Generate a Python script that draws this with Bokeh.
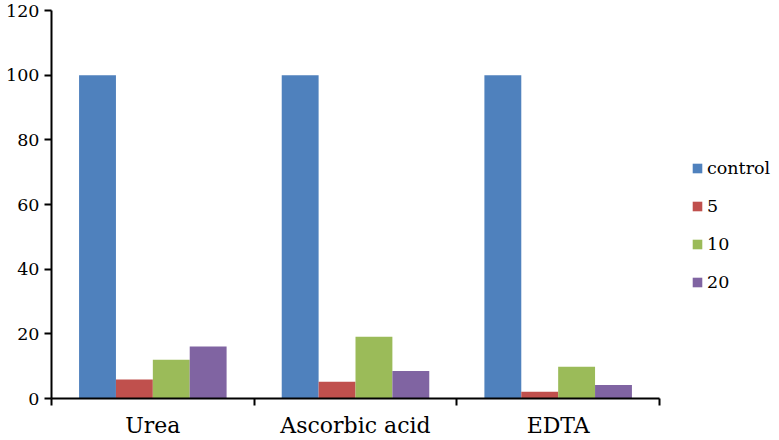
from bokeh.plotting import figure
from bokeh.models import (ColumnDataSource, Range1d, FixedTicker, LinearAxis,
                          Legend, LegendItem)
from bokeh.transform import dodge
from bokeh.embed import file_html
from bokeh.resources import INLINE

categories = ["Urea", "Ascorbic acid", "EDTA"]
series = ["control", "5", "10", "20"]
control = [100, 100, 100]
s5 = [5.9, 5.2, 2.1]
s10 = [12.0, 19.1, 9.8]
s20 = [16.1, 8.5, 4.2]
colors = ["#4F81BD", "#C0504D", "#9BBB59", "#8064A2"]
y_ticks = [0, 20, 40, 60, 80, 100, 120]

FONT = "DejaVu Serif"
n = len(categories)
xpos = [i + 0.5 for i in range(n)]
src = ColumnDataSource(dict(x=xpos, cat=categories, control=control,
                            s5=s5, s10=s10, s20=s20))

W = 771
LEFT = 51
x_end = (W - LEFT) / (608 / 3)

p = figure(width=W, height=440, output_backend="svg", toolbar_location=None,
           x_range=Range1d(0, x_end), y_range=Range1d(0, 120),
           x_axis_location=None, y_axis_location=None,
           min_border_left=LEFT, min_border_right=0, min_border_top=10,
           min_border_bottom=30)
p.outline_line_color = None
p.xgrid.visible = False
p.ygrid.visible = False

bw = 0.182
offsets = [-1.5 * bw, -0.5 * bw, 0.5 * bw, 1.5 * bw]
fields = ["control", "s5", "s10", "s20"]
renderers = []
for f, off, c in zip(fields, offsets, colors):
    r = p.vbar(x=dodge("x", off), top=f, width=bw, bottom=0, source=src,
               fill_color=c, line_color=None)
    renderers.append(r)

# y axis
yax = LinearAxis(ticker=FixedTicker(ticks=y_ticks))
yax.axis_line_width = 2
yax.axis_line_color = "black"
yax.major_tick_line_width = 2
yax.major_tick_in = 0
yax.major_tick_out = 7
yax.minor_tick_line_color = None
yax.major_label_text_font = FONT
yax.major_label_text_font_size = "17.5px"
yax.major_label_text_color = "black"
yax.major_label_standoff = 5
p.add_layout(yax, "left")

# x axis: labels at category centres, minor ticks at category boundaries
xax = LinearAxis(ticker=FixedTicker(ticks=xpos, minor_ticks=list(range(n + 1))),
                 bounds=(0, n))
xax.axis_line_width = 2
xax.axis_line_color = "black"
xax.major_tick_line_color = None
xax.major_tick_in = 0
xax.major_tick_out = 0
xax.minor_tick_line_width = 2
xax.minor_tick_line_color = "black"
xax.minor_tick_in = 0
xax.minor_tick_out = 7
xax.major_label_overrides = {x: c for x, c in zip(xpos, categories)}
xax.major_label_text_font = FONT
xax.major_label_text_font_size = "22px"
xax.major_label_text_color = "black"
xax.major_label_standoff = 7
p.add_layout(xax, "below")

legend = Legend(items=[LegendItem(label=s, renderers=[r]) for s, r in zip(series, renderers)],
                location=(640, 103), padding=0, margin=0, spacing=12,
                glyph_width=12, glyph_height=12, label_height=26,
                label_standoff=4, border_line_color=None,
                background_fill_alpha=0,
                label_text_font=FONT, label_text_font_size="17.5px",
                label_text_color="black")
p.add_layout(legend)

open("out.html", "w").write(file_html(p, INLINE))
